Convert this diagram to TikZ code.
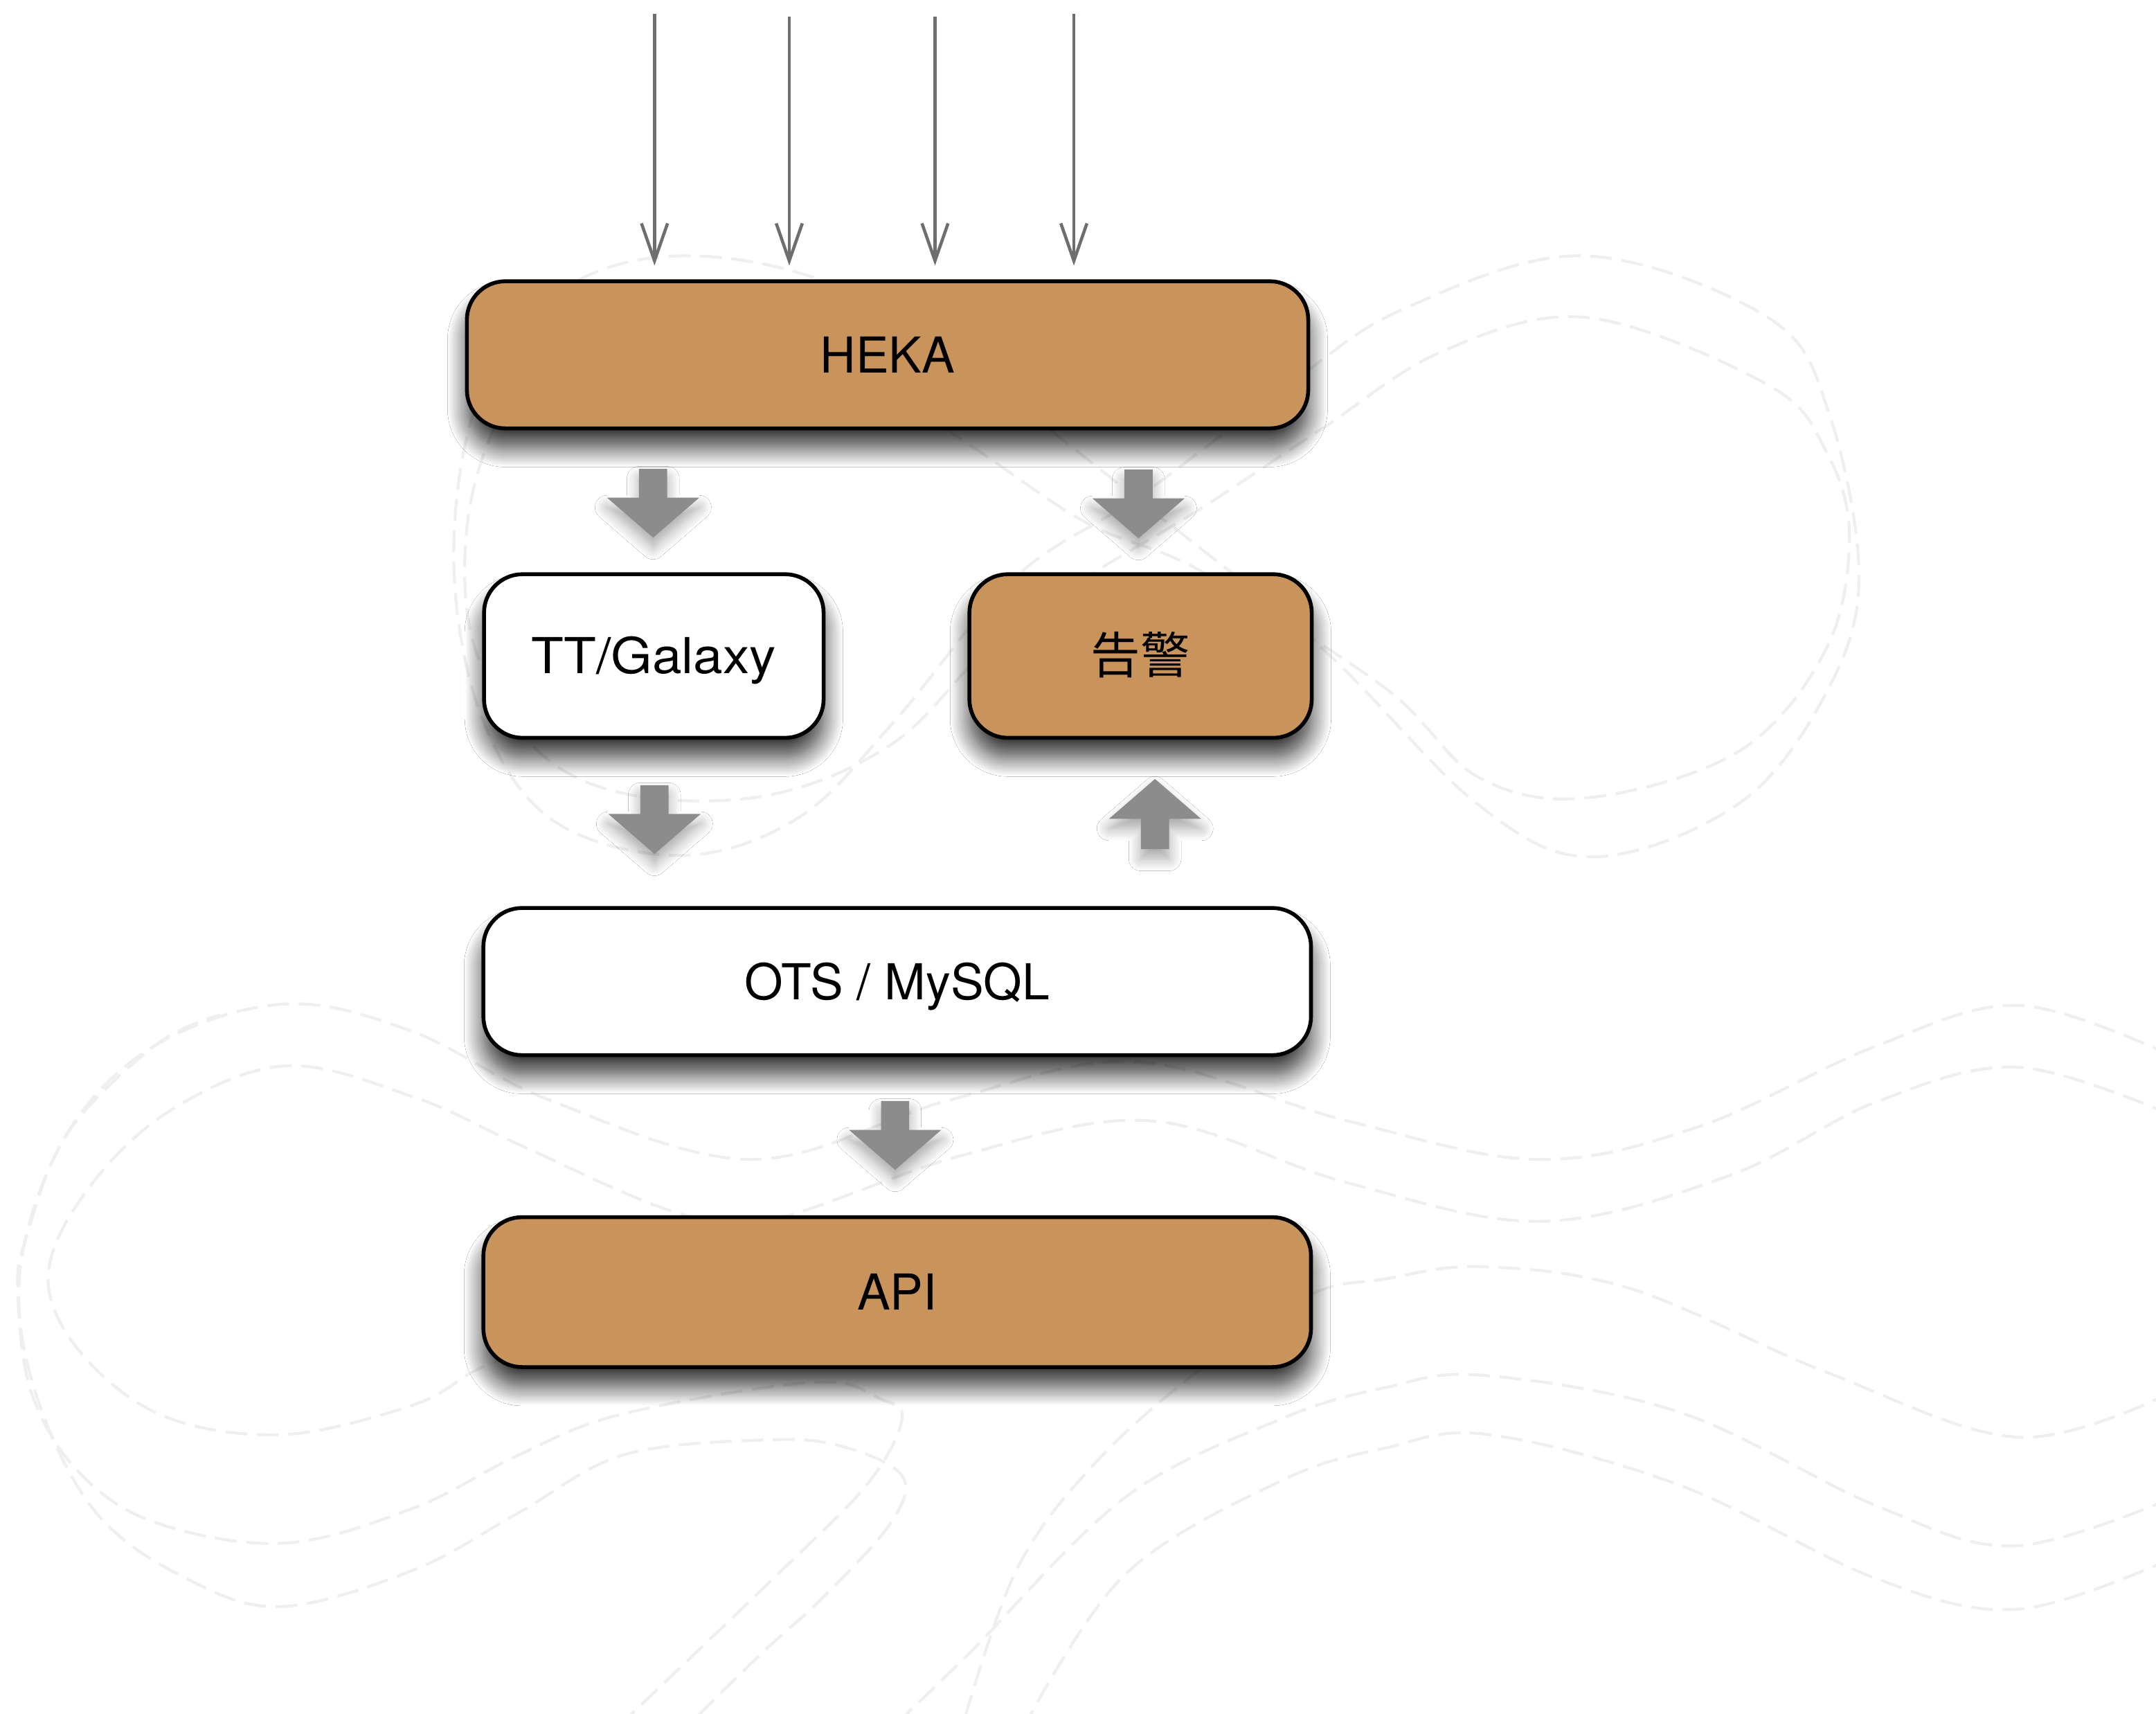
\documentclass[tikz,border=0pt]{standalone}
\usepackage{fontspec}
\setmainfont{TeX Gyre Heros}
\newfontfamily\widefont[FakeStretch=1.07]{TeX Gyre Heros}
\newfontfamily\cjkfont{Noto Sans CJK SC}
\usetikzlibrary{arrows.meta,calc,shadows.blur}
\definecolor{boxtan}{HTML}{C9945C}
\definecolor{feedgray}{HTML}{6E6E6E}
\definecolor{blockgray}{HTML}{8C8C8C}
\definecolor{bggray}{HTML}{EFEFEF}
\tikzset{
  bgline/.style={draw=bggray, line width=1.2pt, dash pattern=on 9pt off 4pt},
  box/.style={draw=black, line width=1.6pt, rounded corners=0.56cm, inner sep=0pt,
    font=\fontsize{20.5}{24}\selectfont, text height=14.7pt, text depth=0pt,
    blur shadow={shadow xshift=0pt, shadow yshift=-8pt, shadow blur radius=8pt, shadow blur steps=18, shadow opacity=80}},
  wide/.style={minimum width=12.04cm, minimum height=2.14cm},
  small/.style={minimum width=4.94cm, minimum height=2.38cm},
  feed/.style={draw=feedgray, line width=1.3pt, shorten >=0.2cm,
    -{Straight Barb[length=15.5pt,width=10.8pt,line width=1.3pt]}},
  blockfill/.style={fill=blockgray,
    blur shadow={shadow xshift=0pt, shadow yshift=-4pt, shadow blur radius=5pt, shadow blur steps=10, shadow opacity=35}},
  blkdown/.pic={\path[blockfill] (-10.25,0) -- (10.25,0) -- (10.25,21) -- (33.5,21) -- (0,50) -- (-33.5,21) -- (-10.25,21) -- cycle;},
  blkup/.pic={\path[blockfill] (0,0) -- (33.5,29) -- (10.25,29) -- (10.25,51) -- (-10.25,51) -- (-10.25,29) -- (-33.5,29) -- cycle;}
}
\begin{document}
\begin{tikzpicture}[x=0.02cm, y=-0.02cm]
\fill[white] (0,0) rectangle (1568,1246);
\useasboundingbox (0,0) rectangle (1568,1246);

% background decoration (upper band)
\draw[bgline] plot[smooth cycle, tension=0.6] coordinates {(500,186) (614,210) (720,280) (830,365) (960,470) (1075,585) (1159,623) (1265,584) (1328,504) (1352,420) (1330,300) (1286,231) (1151,186) (1020,225) (937,280) (830,360) (738,420) (650,525) (580,595) (494,622) (400,595) (348,515) (330,400) (350,285) (410,210)};
\draw[bgline] plot[smooth cycle, tension=0.6] coordinates {(480,231) (590,250) (700,320) (790,380) (873,415) (1007,500) (1075,565) (1155,580) (1265,546) (1328,472) (1345,390) (1328,328) (1286,280) (1155,231) (1050,255) (961,312) (873,370) (790,420) (720,470) (650,540) (560,578) (459,578) (390,545) (345,470) (340,380) (365,300) (410,250)};
% background decoration (lower band)
\draw[bgline] plot[smooth, tension=0.6] coordinates {(1580,768) (1468,731) (1361,762) (1236,819) (1118,843) (980,815) (826,772) (690,800) (547,843) (400,800) (300,750) (207,730) (113,760) (49,824) (15,920) (25,1010) (70,1100) (140,1150) (207,1168) (302,1141) (377,1100) (453,1058) (554,1047) (610,1051) (656,1073) (648,1107) (600,1160) (554,1202) (500,1255)};
\draw[bgline] plot[smooth, tension=0.6] coordinates {(1580,811) (1468,776) (1365,801) (1257,855) (1121,888) (980,860) (837,815) (700,840) (560,887) (490,881) (377,832) (302,798) (207,775) (120,810) (60,870) (35,930) (60,985) (120,1030) (207,1043) (302,1021) (351,994) (420,970)};
\draw[bgline] plot[smooth, tension=0.6] coordinates {(450,1255) (560,1150) (630,1080) (656,1032) (640,1017) (592,1005) (453,1028) (377,1058) (302,1096) (207,1122) (113,1107) (57,1070) (23,1013) (13,941) (19,900) (49,824) (113,760) (160,738)};
\draw[bgline] plot[smooth, tension=0.6] coordinates {(1580,1012) (1468,1045) (1329,998) (1186,937) (1078,921) (1007,930) (954,941) (880,990) (800,1060) (740,1140) (700,1255)};
\draw[bgline] plot[smooth, tension=0.6] coordinates {(1580,1089) (1465,1124) (1365,1095) (1222,1027) (1079,1000) (1007,1009) (931,1032) (818,1089) (705,1202) (650,1255)};
\draw[bgline] plot[smooth, tension=0.6] coordinates {(1580,1133) (1468,1170) (1365,1148) (1222,1080) (1082,1043) (1007,1053) (931,1077) (818,1145) (745,1255)};

% boxes
\node[box, fill=boxtan, minimum width=12.24cm, minimum height=2.14cm] (heka) at (645.5,258) {HEKA};
\node[box, fill=white, small] (tt) at (475.5,477) {\widefont TT/Galaxy};
\node[box, fill=boxtan, small, minimum width=4.98cm] (alarm) at (829.5,477) {\cjkfont 告警};
\node[box, fill=white, wide] (ots) at (652.5,713.7) {OTS / MySQL};
\node[box, fill=boxtan, wide, minimum height=2.18cm] (api) at (652.5,939.5) {API};

% incoming feeds
\coordinate (s1) at (476,10);
\coordinate (s2) at (574,12);
\coordinate (s3) at (680,12);
\coordinate (s4) at (781,10);
\draw[feed] (s1) -- (s1 |- heka.north);
\draw[feed] (s2) -- (s2 |- heka.north);
\draw[feed] (s3) -- (s3 |- heka.north);
\draw[feed] (s4) -- (s4 |- heka.north);

% block arrows
\pic at ($(tt.north |- heka.south)+(-0.5,28)$) {blkdown};
\pic at ($(alarm.north |- heka.south)+(-1.5,28.5)$) {blkdown};
\pic at ($(tt.south)+(0.5,33)$) {blkdown};
\pic at ($(alarm.south)+(10.5,28.5)$) {blkup};
\pic at ($(ots.south)+(-1.5,32)$) {blkdown};
\end{tikzpicture}
\end{document}
